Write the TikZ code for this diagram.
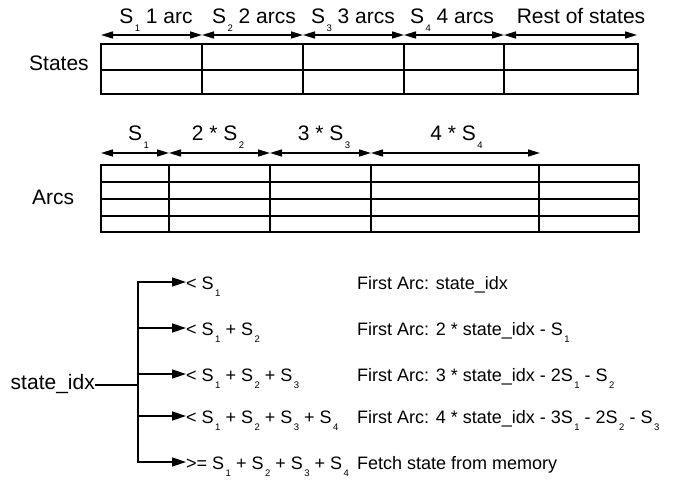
\documentclass[tikz,border=0pt]{standalone}
\usepackage{fontspec}
\setmainfont{Liberation Sans}
\usetikzlibrary{arrows.meta}
\newcommand\sbs[1]{\kern1.5bp\raisebox{-7.5bp}{\fontsize{9.5bp}{9.5bp}\selectfont #1}}
\begin{document}
\begin{tikzpicture}[x=1bp,y=-1bp,
  big/.style={font=\fontsize{21bp}{24bp}\selectfont, inner sep=0pt},
  small/.style={font=\fontsize{18bp}{21bp}\selectfont, inner sep=0pt},
  grid/.style={line width=1.5bp},
  dim/.style={line width=1.5bp, {Triangle[length=12bp,width=7bp]}-{Triangle[length=12bp,width=7bp]}},
  branch/.style={line width=1.5bp, -{Triangle[length=14bp,width=9bp]}},
  feed/.style={line width=2.5bp}]
\useasboundingbox (0,0) rectangle (674,483);

% ---------- States table ----------
\draw[grid] (101,44) rectangle (638,94);
\draw[grid] (101,70) -- (638,70);
\foreach \x in {202,303,404,504} \draw[grid] (\x,44) -- (\x,94);
\coordinate (s0) at (101,35);
\coordinate (s1) at (202,35);
\coordinate (s2) at (303,35);
\coordinate (s3) at (404,35);
\coordinate (s4) at (504,35);
\coordinate (s5) at (637,35);
\draw[dim] (s0) -- (s1);
\draw[dim] (s1) -- (s2);
\draw[dim] (s2) -- (s3);
\draw[dim] (s3) -- (s4);
\draw[dim] (s4) -- (s5);
\node[big, anchor=base] (ls1) at (156,24) {S\sbs{1} 1 arc};
\node[big, anchor=base] (ls2) at (254,24) {S\sbs{2} 2 arcs};
\node[big, anchor=base] (ls3) at (353,24) {S\sbs{3} 3 arcs};
\node[big, anchor=base] (ls4) at (452,24) {S\sbs{4} 4 arcs};
\node[big, anchor=base] (ls5) at (581,24) {Rest of states};
\node[big, anchor=base west] (states) at (29,71) {States};

% ---------- Arcs table ----------
\draw[grid] (101,165) rectangle (639,232);
\foreach \y in {182,199,216} \draw[grid] (101,\y) -- (639,\y);
\foreach \x in {169,270,371,539} \draw[grid] (\x,165) -- (\x,232);
\coordinate (a0) at (101,153);
\coordinate (a1) at (169,153);
\coordinate (a2) at (270,153);
\coordinate (a3) at (371,153);
\coordinate (a4) at (540,153);
\draw[dim] (a0) -- (a1);
\draw[dim] (a1) -- (a2);
\draw[dim] (a2) -- (a3);
\draw[dim] (a3) -- (a4);
\node[big, anchor=base] (la1) at (138.5,141) {S\sbs{1}};
\node[big, anchor=base] (la2) at (218,141) {2 * S\sbs{2}};
\node[big, anchor=base] (la3) at (324,141) {3 * S\sbs{3}};
\node[big, anchor=base] (la4) at (456.5,141) {4 * S\sbs{4}};
\node[big, anchor=base west] (arcs) at (32,204.6) {Arcs};

% ---------- Decision tree ----------
\node[big, anchor=base east] (idx) at (95,389) {state\_idx};
\coordinate (j) at (138,385);
\coordinate (k1) at (138,282);
\coordinate (k2) at (138,328);
\coordinate (k3) at (138,374);
\coordinate (k4) at (138,416);
\coordinate (k5) at (138,462);
\draw[feed] (idx.east |- j) -- (j);
\draw[grid, line cap=rect] (k1) -- (k5);

\node[small, anchor=base west] (b1) at (186,289) {< S\sbs{1}};
\node[small, anchor=base west] (b2) at (186,335) {< S\sbs{1} + S\sbs{2}};
\node[small, anchor=base west] (b3) at (186,381) {< S\sbs{1} + S\sbs{2} + S\sbs{3}};
\node[small, anchor=base west] (b4) at (186,423) {< S\sbs{1} + S\sbs{2} + S\sbs{3} + S\sbs{4}};
\node[small, anchor=base west] (b5) at (186,469) {>= S\sbs{1} + S\sbs{2} + S\sbs{3} + S\sbs{4}};
\draw[branch] (k1) -- (k1 -| b1.west);
\draw[branch] (k2) -- (k2 -| b2.west);
\draw[branch] (k3) -- (k3 -| b3.west);
\draw[branch] (k4) -- (k4 -| b4.west);
\draw[branch] (k5) -- (k5 -| b5.west);

\node[small, anchor=base west] (r1) at (357,289) {First Arc: state\_idx};
\node[small, anchor=base west] (r2) at (357,335) {First Arc: 2 * state\_idx - S\sbs{1}};
\node[small, anchor=base west] (r3) at (357,381) {First Arc: 3 * state\_idx - 2S\sbs{1} - S\sbs{2}};
\node[small, anchor=base west] (r4) at (357,423) {First Arc: 4 * state\_idx - 3S\sbs{1} - 2S\sbs{2} - S\sbs{3}};
\node[small, anchor=base west] (r5) at (357,469) {Fetch state from memory};
\end{tikzpicture}
\end{document}
